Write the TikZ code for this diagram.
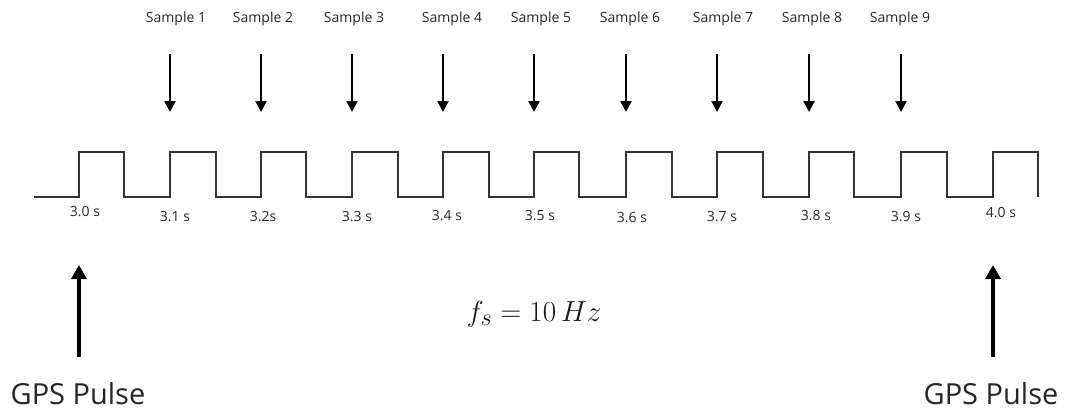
\documentclass[tikz,border=0pt]{standalone}
\usepackage{fontspec}
\setmainfont{Open Sans}
\usetikzlibrary{arrows.meta}
\begin{document}
\begin{tikzpicture}[x=1pt,y=-1pt,
  wave/.style={line width=1.5pt, draw=black!80, line join=miter},
  samplearrow/.style={line width=2.4pt, -{Triangle[length=11pt,width=11pt]}},
  gpsarrow/.style={line width=4pt, -{Triangle[length=14pt,width=15pt]}},
  samplelabel/.style={font=\fontsize{14}{16}\selectfont, text=black!85, inner sep=0pt},
  timelabel/.style={font=\fontsize{14}{16}\selectfont, text=black!85, inner sep=0pt},
  gpslabel/.style={font=\fontsize{29}{32}\selectfont, text=black!85, inner sep=0pt},
  mathlabel/.style={font=\fontsize{24.88}{28}\selectfont, scale=1.17, text=black!90, inner sep=0pt}]
\useasboundingbox (0,0) rectangle (1065,412);

% square wave
\draw[wave] (34,197)
  foreach \r/\f in {79/124,170/216,261/306,352/398,443/489,534/579,626/672,717/763,809/854,901/947}
  { -- (\r,197) -- (\r,152) -- (\f,152) -- (\f,197) }
  -- (993,197) -- (993,152) -- (1038,152) -- (1038,197);

% sample labels and arrows
\foreach \n/\lx/\ax in {1/176/170,2/263/261,3/354/352,4/452/443,5/541/534,6/630/626,7/723/717,8/812/809,9/900/901}{
  \node[samplelabel] (s\n) at (\lx,19) {Sample \n};
  \coordinate (st\n) at (\ax,54);
  \coordinate (sb\n) at (\ax,112);
  \draw[samplearrow] (st\n) -- (sb\n);
}

% time labels
\node[timelabel] (t0) at (85,212) {3.0 s};
\node[timelabel] (t1) at (175,217) {3.1 s};
\node[timelabel] (t2) at (263,217) {3.2s};
\node[timelabel] (t3) at (357,217) {3.3 s};
\node[timelabel] (t4) at (447,216) {3.4 s};
\node[timelabel] (t5) at (540,216) {3.5 s};
\node[timelabel] (t6) at (632,218) {3.6 s};
\node[timelabel] (t7) at (722,217) {3.7 s};
\node[timelabel] (t8) at (816,216) {3.8 s};
\node[timelabel] (t9) at (906,217) {3.9 s};
\node[timelabel] (t10) at (1001,213) {4.0 s};

% frequency
\node[mathlabel] (fs) at (534,314) {$f_s = 10\,Hz$};

% GPS pulses
\coordinate (gl0) at (79,357);
\coordinate (gl1) at (79,265);
\draw[gpsarrow] (gl0) -- (gl1);
\node[gpslabel] (gpsl) at (78,394) {GPS Pulse};
\coordinate (gr0) at (993,357);
\coordinate (gr1) at (993,265);
\draw[gpsarrow] (gr0) -- (gr1);
\node[gpslabel] (gpsr) at (991,394) {GPS Pulse};
\end{tikzpicture}
\end{document}
